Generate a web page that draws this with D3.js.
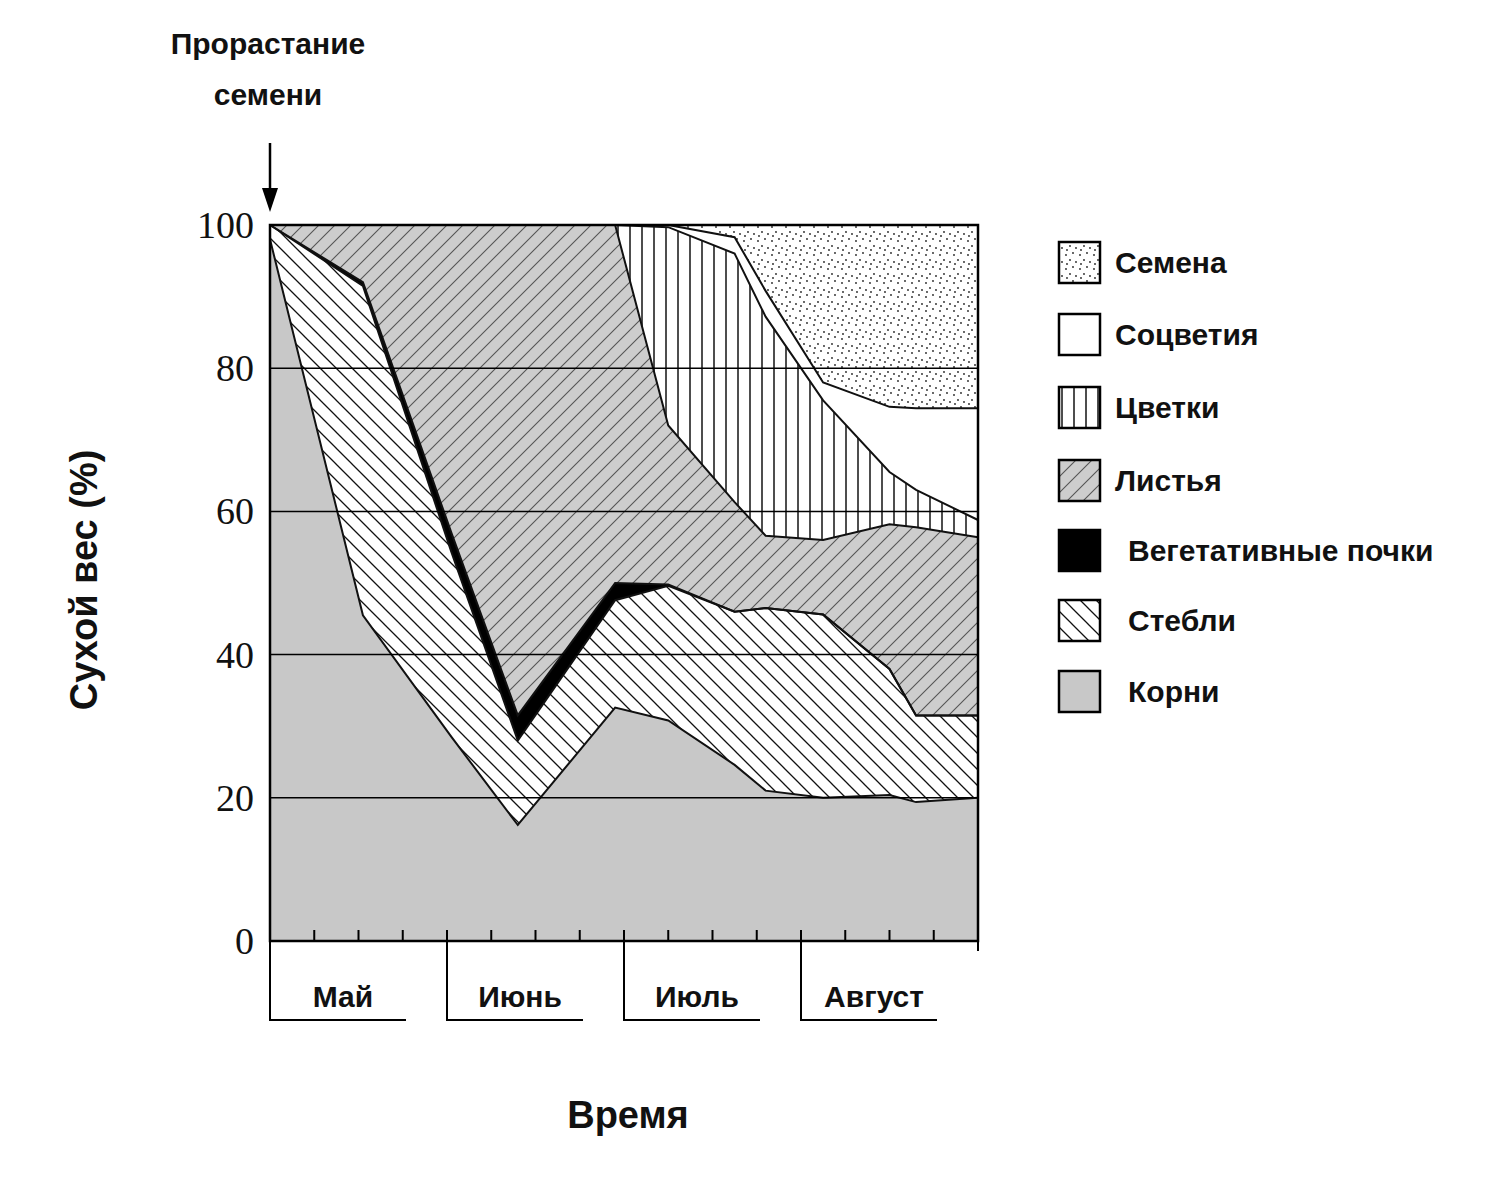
<!DOCTYPE html>
<html lang="ru">
<head>
<meta charset="utf-8">
<script src="https://d3js.org/d3.v7.min.js"></script>
<style>
	body { margin: 0; background: #fff; }
	text { font-family: Arial, "Liberation Sans", sans-serif; font-weight: bold; fill: #111; }
</style>
</head>
<body>
<div id="chart"></div>
<script>
	// weeks since germination (4 per month)
	var weeks = [0, 2.1, 4.1, 5.6, 7.8, 9, 10.5, 11.2, 12.5, 14, 14.6, 16];
	// cumulative upper boundary of each layer, %
	var rootsTop   = [98, 45.5, 28.5, 16.2, 32.6, 30.8, 24.6, 21, 20, 20.4, 19.4, 20];
	var stemsTop   = [100, 91.5, 54.3, 28, 47.6, 49.6, 46, 46.5, 45.6, 38, 31.5, 31.5];
	var budsTop    = [100, 92, 57, 31.5, 50, 49.8, 46, 46.5, 45.6, 38, 31.5, 31.5];
	var leavesTop  = [100, 100, 100, 100, 100, 72, 61.3, 56.6, 56, 58.2, 57.8, 56.4];
	var flowersTop = [100, 100, 100, 100, 100, 99.7, 96, 87.2, 75.5, 65.5, 63, 58.8];
	var inflorTop  = [100, 100, 100, 100, 100, 100, 98.3, 90.8, 78, 74.6, 74.4, 74.4];
	var seedsTop   = [100, 100, 100, 100, 100, 100, 100, 100, 100, 100, 100, 100];
	var months = ["Май", "Июнь", "Июль", "Август"];
	var yTicks = [0, 20, 40, 60, 80, 100];

	var W = 1500, H = 1200;
	var x = d3.scaleLinear().domain([0, 16]).range([270, 978]);
	var y = d3.scaleLinear().domain([0, 100]).range([941, 225]);

	var svg = d3.select("#chart").append("svg").attr("width", W).attr("height", H);
	var defs = svg.append("defs");

	// patterns
	var p = defs.append("pattern").attr("id", "dots").attr("width", 14).attr("height", 14).attr("patternUnits", "userSpaceOnUse");
	p.append("rect").attr("width", 14).attr("height", 14).attr("fill", "#fff");
	[[2,3],[9,1],[6,8],[12,10],[3,12]].forEach(function(d){
		p.append("circle").attr("cx", d[0]).attr("cy", d[1]).attr("r", 0.9).attr("fill", "#222");
	});
	p = defs.append("pattern").attr("id", "vert").attr("width", 12).attr("height", 12).attr("patternUnits", "userSpaceOnUse");
	p.append("rect").attr("width", 12).attr("height", 12).attr("fill", "#fff");
	p.append("line").attr("x1", 6).attr("y1", 0).attr("x2", 6).attr("y2", 12).attr("stroke", "#111").attr("stroke-width", 1.5);
	p = defs.append("pattern").attr("id", "leaf").attr("width", 16).attr("height", 16).attr("patternUnits", "userSpaceOnUse");
	p.append("rect").attr("width", 16).attr("height", 16).attr("fill", "#cdcdcd");
	p.append("path").attr("d", "M-4,4 L4,-4 M0,16 L16,0 M12,20 L20,12").attr("stroke", "#555").attr("stroke-width", 1.1);
	p = defs.append("pattern").attr("id", "stem").attr("width", 16).attr("height", 16).attr("patternUnits", "userSpaceOnUse");
	p.append("rect").attr("width", 16).attr("height", 16).attr("fill", "#fff");
	p.append("path").attr("d", "M-4,12 L4,20 M0,0 L16,16 M12,-4 L20,4").attr("stroke", "#111").attr("stroke-width", 1.3);

	var zero = weeks.map(function(){ return 0; });
	var layers = [
		{ name: "Корни", lo: zero, hi: rootsTop, fill: "#c8c8c8" },
		{ name: "Стебли", lo: rootsTop, hi: stemsTop, fill: "url(#stem)" },
		{ name: "Вегетативные почки", lo: stemsTop, hi: budsTop, fill: "#000" },
		{ name: "Листья", lo: budsTop, hi: leavesTop, fill: "url(#leaf)" },
		{ name: "Цветки", lo: leavesTop, hi: flowersTop, fill: "url(#vert)" },
		{ name: "Соцветия", lo: flowersTop, hi: inflorTop, fill: "#fff" },
		{ name: "Семена", lo: inflorTop, hi: seedsTop, fill: "url(#dots)" }
	];

	var area = d3.area()
		.x(function(d){ return x(d.w); })
		.y0(function(d){ return y(d.lo); })
		.y1(function(d){ return y(d.hi); });
	var line = d3.line().x(function(d){ return x(d.w); }).y(function(d){ return y(d.v); });

	layers.forEach(function(L){
		var pts = weeks.map(function(w, i){ return { w: w, lo: L.lo[i], hi: L.hi[i] }; });
		svg.append("path").attr("d", area(pts)).attr("fill", L.fill).attr("stroke", "none");
	});
	layers.forEach(function(L){
		var pts = weeks.map(function(w, i){ return { w: w, v: L.hi[i] }; });
		svg.append("path").attr("d", line(pts)).attr("fill", "none").attr("stroke", "#111").attr("stroke-width", 2);
	});

	// grid lines
	svg.selectAll(".grid").data([20, 40, 60, 80]).enter().append("line")
		.attr("x1", x(0)).attr("x2", x(16))
		.attr("y1", function(d){ return y(d); }).attr("y2", function(d){ return y(d); })
		.attr("stroke", "#000").attr("stroke-width", 1.5);

	// frame
	svg.append("rect").attr("x", x(0)).attr("y", y(100)).attr("width", x(16) - x(0)).attr("height", y(0) - y(100))
		.attr("fill", "none").attr("stroke", "#000").attr("stroke-width", 2.5);

	// y tick labels
	svg.selectAll(".yt").data(yTicks).enter().append("text")
		.attr("x", 254).attr("y", function(d){ return y(d) + 13; })
		.attr("text-anchor", "end").attr("font-size", 38).style("font-weight", "normal")
		.style("font-family", "'Liberation Serif', 'DejaVu Serif', serif")
		.text(function(d){ return d; });

	// week ticks
	svg.selectAll(".wt").data(d3.range(1, 16)).enter().append("line")
		.attr("x1", function(d){ return x(d); }).attr("x2", function(d){ return x(d); })
		.attr("y1", y(0)).attr("y2", y(0) - 11)
		.attr("stroke", "#000").attr("stroke-width", 2);

	// month brackets
	months.forEach(function(m, i){
		var x0 = x(i * 4);
		svg.append("path").attr("d", "M" + x0 + "," + y(0) + " V1020 H" + (x0 + 136))
			.attr("fill", "none").attr("stroke", "#000").attr("stroke-width", 2);
		svg.append("text").attr("x", x0 + 73).attr("y", 1007).attr("text-anchor", "middle")
			.attr("font-size", 30).text(m);
	});
	svg.append("line").attr("x1", x(16)).attr("x2", x(16)).attr("y1", y(0)).attr("y2", y(0) + 10)
		.attr("stroke", "#000").attr("stroke-width", 2);

	// axis titles
	svg.append("text").attr("x", 628).attr("y", 1128).attr("text-anchor", "middle").attr("font-size", 38).text("Время");
	svg.append("text").attr("transform", "translate(97,580) rotate(-90)").attr("text-anchor", "middle")
		.attr("font-size", 38).text("Сухой вес (%)");

	// germination note
	svg.append("text").attr("x", 268).attr("y", 54).attr("text-anchor", "middle").attr("font-size", 30).text("Прорастание");
	svg.append("text").attr("x", 268).attr("y", 105).attr("text-anchor", "middle").attr("font-size", 30).text("семени");
	svg.append("line").attr("x1", 270).attr("x2", 270).attr("y1", 143).attr("y2", 195).attr("stroke", "#000").attr("stroke-width", 2.5);
	svg.append("path").attr("d", "M262,188 L278,188 L270,212 Z").attr("fill", "#000");

	// legend
	var legendY = [262, 334, 407, 480, 550, 620, 691];
	var legendOrder = layers.slice().reverse();
	legendOrder.forEach(function(L, i){
		var cy = legendY[i];
		svg.append("rect").attr("x", 1059).attr("y", cy - 20).attr("width", 41).attr("height", 41)
			.attr("fill", L.fill).attr("stroke", "#000").attr("stroke-width", 2.5);
		svg.append("text").attr("x", i >= 4 ? 1128 : 1115).attr("y", cy + 11).attr("font-size", 30).text(L.name);
	});
</script>
</body>
</html>
